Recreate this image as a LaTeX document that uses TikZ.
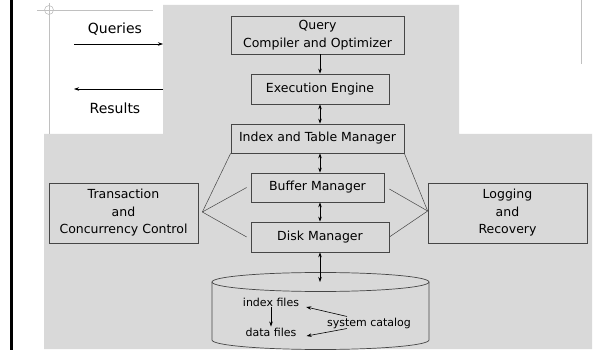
\documentclass[tikz,border=0pt]{standalone}
\usepackage{fontspec}
\setmainfont{DejaVu Sans}
\usetikzlibrary{arrows.meta}
\definecolor{panel}{RGB}{217,217,217}
\definecolor{edge}{RGB}{70,70,70}
\definecolor{guide}{RGB}{192,192,192}

\begin{document}
\begin{tikzpicture}[x=1pt,y=-1pt,
    box/.style={draw=edge,line width=0.7pt,fill=panel,align=center,inner sep=0pt,
                font=\fontsize{12.5}{17.5}\selectfont},
    tip/.style={-{Stealth[length=5pt,width=3.5pt]},line width=0.6pt},
    both/.style={{Stealth[length=5pt,width=3.5pt]}-{Stealth[length=5pt,width=3.5pt]},line width=0.6pt},
    fan/.style={draw=edge,line width=0.5pt},
    small/.style={font=\fontsize{11}{13}\selectfont,inner sep=1pt},
    big/.style={font=\fontsize{14}{16}\selectfont}]
    \useasboundingbox (0,0) rectangle (598,350);

    % Background
    \fill[white] (0,0) rectangle (598,350);
    \fill[panel] (163,5) -- (459,5) -- (459,134) -- (592,134) -- (592,349)
                 -- (44,349) -- (44,134) -- (163,134) -- cycle;
    \draw[line width=3pt] (11,0) -- (11,350);
    \draw[guide,line width=0.6pt] (37,10) -- (153,10);
    \draw[guide,line width=0.6pt] (49,3) -- (49,134);
    \draw[guide,line width=0.6pt] (49,10) circle (4.5pt);
    \draw[guide,line width=0.6pt] (581,0) -- (581,64);

    % Boxes
    \node[box,minimum width=173pt,minimum height=38pt] (query) at (317.5,35) {Query\\Compiler and Optimizer};
    \node[box,minimum width=138pt,minimum height=30pt] (exec) at (320,89) {Execution Engine};
    \node[box,minimum width=173pt,minimum height=29pt] (index) at (317.5,138.5) {Index and Table Manager};
    \node[box,minimum width=133pt,minimum height=29pt] (buffer) at (317.5,187.5) {Buffer Manager};
    \node[box,minimum width=138pt,minimum height=30pt] (disk) at (320,237) {Disk Manager};
    \node[box,minimum width=149pt,minimum height=60pt] (trans) at (123.5,213) {Transaction\\and\\Concurrency Control};
    \node[box,minimum width=159pt,minimum height=60pt] (logging) at (507.5,213) {Logging\\and\\Recovery};

    % Disk store
    \filldraw[draw=edge,fill=panel,line width=0.7pt] (212,282) -- (212,340)
        arc[start angle=180,end angle=360,x radius=108.5pt,y radius=9.5pt] -- (429,282);
    \draw[edge,line width=0.7pt] (320.5,282) ellipse [x radius=108.5pt,y radius=9.5pt];
    \coordinate (store) at (320,282);
    \node[small] (idxfiles) at (271,302) {index files};
    \node[small] (datafiles) at (271,332) {data files};
    \node[small] (catalog) at (369,323) {system catalog};

    % Queries and results
    \node[big] (queries) at (115,29) {Queries};
    \node[big] (results) at (115,108) {Results};
    \coordinate (qstart) at (74,44);
    \coordinate (qend) at (163,44);
    \coordinate (rstart) at (163,89);
    \coordinate (rend) at (74,89);
    \draw[tip] (qstart) -- (qend);
    \draw[tip] (rstart) -- (rend);

    % Arrows
    \draw[tip] (query.south -| exec.north) -- (exec.north);
    \draw[both] (exec.south) -- (exec.south |- index.north);
    \draw[both] (index.south -| exec) -- (buffer.north -| exec);
    \draw[both] (buffer.south -| exec) -- (disk.north);
    \draw[both] (disk.south) -- (store);
    \draw[tip] (idxfiles) -- (datafiles);
    \draw[tip] ([xshift=-22pt]catalog.north) -- ([xshift=6pt,yshift=-5pt]idxfiles.east);
    \draw[tip] ([xshift=-22pt,yshift=1pt]catalog.south) -- ([xshift=9pt,yshift=-4pt]datafiles.east);

    % Fans
    \coordinate (tfan) at ([xshift=4pt,yshift=1pt]trans.east);
    \coordinate (lfan) at ([yshift=2pt]logging.west);
    \draw[fan] (tfan) -- (index.south west);
    \draw[fan] (tfan) -- ([xshift=-4pt]buffer.west);
    \draw[fan] (tfan) -- ([xshift=-4pt]disk.west);
    \draw[fan] (lfan) -- (index.south east);
    \draw[fan] (lfan) -- ([xshift=5pt,yshift=-1.5pt]buffer.east);
    \draw[fan] (lfan) -- (disk.east);
\end{tikzpicture}
\end{document}
